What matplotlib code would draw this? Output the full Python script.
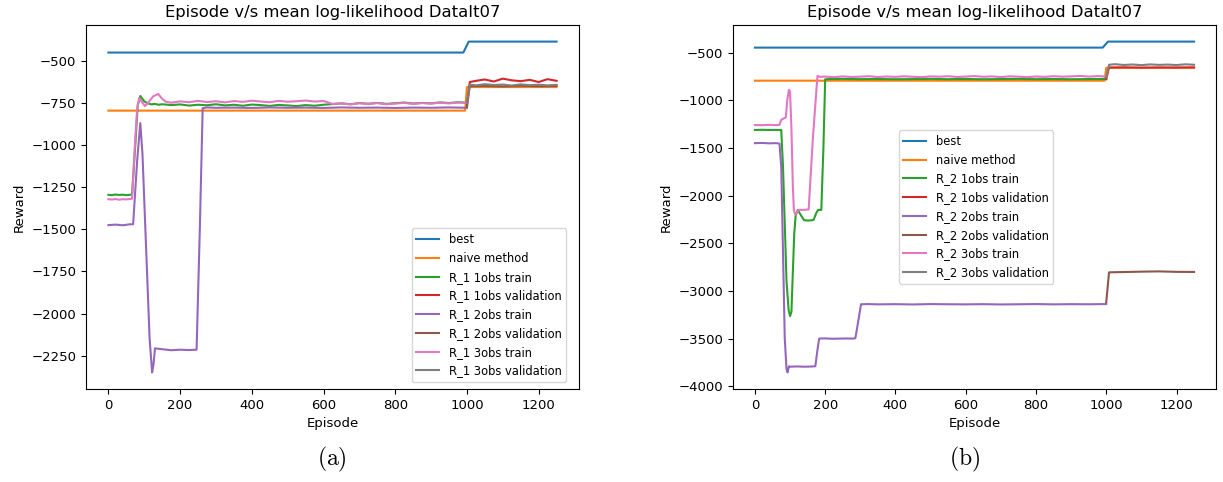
import matplotlib
matplotlib.use("Agg")
import matplotlib.pyplot as plt

plt.rcParams['mathtext.fontset'] = 'cm'

# ---------------- Panel (a) data ----------------
a_best_ep = [0, 990, 1005, 1250]
a_best = [-450, -450, -385, -385]
a_naive_ep = [0, 995, 1000, 1250]
a_naive = [-795, -795, -655, -655]

a_1tr_ep = [0, 10, 20, 30, 40, 50, 60, 66, 75, 82, 89, 95, 100, 110, 120, 130, 140, 150,
            175, 200, 225, 250, 275, 300, 325, 350, 375, 400, 425, 450, 475, 500, 525, 550,
            575, 600, 625, 650, 675, 700, 725, 750, 775, 800, 825, 850, 875, 900, 925, 950,
            975, 1000]
a_1tr = [-1295, -1297, -1293, -1296, -1294, -1297, -1295, -1292, -1000, -760, -708, -725, -740,
         -752, -758, -755, -760, -757,
         -762, -758, -765, -760, -763, -757, -764, -760, -766, -759, -762, -767, -761, -764,
         -768, -762, -766, -760, -756, -752, -757, -750, -754, -749, -755, -751, -747, -753,
         -749, -752, -746, -750, -745, -748]
a_1va_ep = [1000, 1008, 1025, 1050, 1075, 1100, 1125, 1150, 1175, 1200, 1225, 1250]
a_1va = [-760, -625, -618, -610, -622, -605, -615, -620, -612, -625, -608, -618]

a_2tr_ep = [0, 20, 40, 60, 69, 80, 89, 95, 105, 115, 122, 126, 130, 150, 175, 200, 225, 246,
            255, 263, 275, 300, 350, 400, 450, 500, 550, 600, 650, 700, 750, 800, 850, 900,
            950, 1000]
a_2tr = [-1475, -1472, -1476, -1470, -1470, -1100, -869, -1050, -1600, -2150, -2350, -2300,
         -2207, -2212, -2218, -2215, -2217, -2215, -1500, -780, -776, -778, -777, -779, -776,
         -778, -777, -779, -776, -778, -777, -779, -777, -778, -776, -778]
a_2va_ep = [1000, 1008, 1050, 1100, 1150, 1200, 1250]
a_2va = [-775, -650, -648, -651, -647, -650, -648]

a_3tr_ep = [0, 10, 20, 30, 40, 50, 60, 66, 74, 80, 86, 94, 102, 112, 125, 139, 150, 160,
            175, 200, 225, 250, 275, 300, 325, 350, 375, 400, 425, 450, 475, 500, 525, 550,
            575, 600, 625, 650, 675, 700, 725, 750, 775, 800, 825, 850, 875, 900, 925, 950,
            975, 1000]
a_3tr = [-1321, -1323, -1320, -1324, -1321, -1322, -1320, -1318, -1000, -790, -720, -745, -768,
         -745, -710, -696, -725, -742,
         -748, -740, -745, -737, -744, -739, -746, -738, -743, -736, -741, -745, -737, -742,
         -739, -735, -741, -738, -755, -752, -758, -751, -756, -750, -757, -753, -749, -755,
         -750, -753, -748, -752, -747, -749]
a_3va_ep = [1000, 1008, 1025, 1050, 1075, 1100, 1125, 1150, 1175, 1200, 1225, 1250]
a_3va = [-750, -640, -645, -638, -643, -640, -646, -639, -644, -641, -645, -642]

# ---------------- Panel (b) data ----------------
b_best_ep = [0, 990, 1005, 1250]
b_best = [-448, -448, -385, -385]
b_naive_ep = [0, 995, 1000, 1250]
b_naive = [-795, -795, -660, -660]

b_1tr_ep = [0, 20, 40, 60, 75, 80, 85, 90, 96, 100, 104, 108, 112, 116, 122, 130, 140, 150,
            160, 167, 175, 180, 189, 195, 200, 210, 250, 300, 350, 400, 450, 500, 550, 600,
            650, 700, 750, 800, 850, 900, 950, 1000]
b_1tr = [-1312, -1310, -1312, -1311, -1312, -1700, -2300, -2900, -3200, -3264, -3220, -2800,
         -2400, -2209, -2150, -2200, -2258, -2262, -2260, -2255, -2180, -2150, -2150, -1500,
         -780, -778, -776, -779, -777, -780, -778, -776, -779, -777, -780, -778, -776, -779,
         -777, -780, -778, -777]
b_1va_ep = [1000, 1008, 1050, 1100, 1150, 1200, 1250]
b_1va = [-780, -657, -655, -658, -656, -657, -655]

b_2tr_ep = [0, 20, 40, 60, 70, 75, 80, 85, 90, 93, 97, 100, 120, 140, 160, 172, 178, 183, 200,
            220, 240, 260, 280, 286, 295, 302, 320, 350, 400, 450, 500, 550, 600, 650, 700,
            750, 800, 850, 900, 950, 1000]
b_2tr = [-1450, -1448, -1452, -1450, -1455, -1700, -2600, -3500, -3820, -3855, -3790, -3795,
         -3792, -3795, -3793, -3790, -3620, -3500, -3498, -3502, -3500, -3499, -3500, -3495,
         -3300, -3140, -3138, -3141, -3139, -3142, -3138, -3140, -3141, -3139, -3142, -3140,
         -3138, -3141, -3139, -3140, -3138]
b_2va_ep = [1000, 1008, 1050, 1100, 1150, 1200, 1250]
b_2va = [-3120, -2805, -2802, -2798, -2795, -2800, -2801]

b_3tr_ep = [0, 20, 40, 60, 70, 75, 80, 88, 92, 97, 100, 104, 108, 111, 115, 125, 135, 145,
            153, 165, 178, 185, 200, 225, 250, 275, 300, 325, 350, 375, 400, 425, 450, 475,
            500, 525, 550, 575, 600, 625, 650, 675, 700, 725, 750, 775, 800, 825, 850, 875,
            900, 925, 950, 975, 1000]
b_3tr = [-1260, -1262, -1258, -1261, -1258, -1205, -1195, -1180, -1000, -890, -910, -1300,
         -1900, -2157, -2200, -2150, -2150, -2148, -2145, -1400, -745, -755,
         -752, -758, -750, -756, -753, -748, -757, -751, -755, -749, -754, -758, -750, -753,
         -748, -756, -752, -747, -754, -750, -757, -749, -753, -758, -751, -755, -748, -753,
         -750, -745, -752, -747, -750]
b_3va_ep = [1000, 1008, 1025, 1050, 1075, 1100, 1125, 1150, 1175, 1200, 1225, 1250]
b_3va = [-760, -628, -622, -630, -625, -632, -624, -629, -626, -631, -623, -628]

C = ['#1f77b4', '#ff7f0e', '#2ca02c', '#d62728', '#9467bd', '#8c564b', '#e377c2', '#7f7f7f']

fig = plt.figure(figsize=(12.23, 4.82), dpi=100)
axA = fig.add_axes([0.0703, 0.193, 0.4031, 0.755])
axB = fig.add_axes([0.5993, 0.193, 0.3950, 0.755])

def draw(ax, prefix, series, **legkw):
    labels = ['best', 'naive method',
              f'{prefix} 1obs train', f'{prefix} 1obs validation',
              f'{prefix} 2obs train', f'{prefix} 2obs validation',
              f'{prefix} 3obs train', f'{prefix} 3obs validation']
    for (xs, ys), lab, col in zip(series, labels, C):
        ax.plot(xs, ys, color=col, lw=1.5, label=lab)
    ax.set_title('Episode v/s mean log-likelihood DataIt07', fontsize=11.8)
    ax.set_xlabel('Episode', fontsize=9.5)
    ax.set_ylabel('Reward', fontsize=9.5)
    ax.tick_params(labelsize=9.5)
    ax.set_xticks([0, 200, 400, 600, 800, 1000, 1200])
    ax.legend(fontsize=8.3, labelspacing=0.5, framealpha=0.8, **legkw)

draw(axA, 'R_1', [(a_best_ep, a_best), (a_naive_ep, a_naive), (a_1tr_ep, a_1tr),
                  (a_1va_ep, a_1va), (a_2tr_ep, a_2tr), (a_2va_ep, a_2va),
                  (a_3tr_ep, a_3tr), (a_3va_ep, a_3va)],
     loc='lower right', bbox_to_anchor=(0.974, 0.019), borderaxespad=0)
axA.set_yticks([-500, -750, -1000, -1250, -1500, -1750, -2000, -2250])

draw(axB, 'R_2', [(b_best_ep, b_best), (b_naive_ep, b_naive), (b_1tr_ep, b_1tr),
                  (b_1va_ep, b_1va), (b_2tr_ep, b_2tr), (b_2va_ep, b_2va),
                  (b_3tr_ep, b_3tr), (b_3va_ep, b_3va)],
     loc='center', bbox_to_anchor=(0.503, 0.50), borderaxespad=0)
axB.set_yticks([-500, -1000, -1500, -2000, -2500, -3000, -3500, -4000])

fig.text(0.2715, 0.035, r'$\mathrm{(a)}$', ha='center', va='baseline', fontsize=17)
fig.text(0.789, 0.035, r'$\mathrm{(b)}$', ha='center', va='baseline', fontsize=17)

fig.savefig('out.png', dpi=100)
